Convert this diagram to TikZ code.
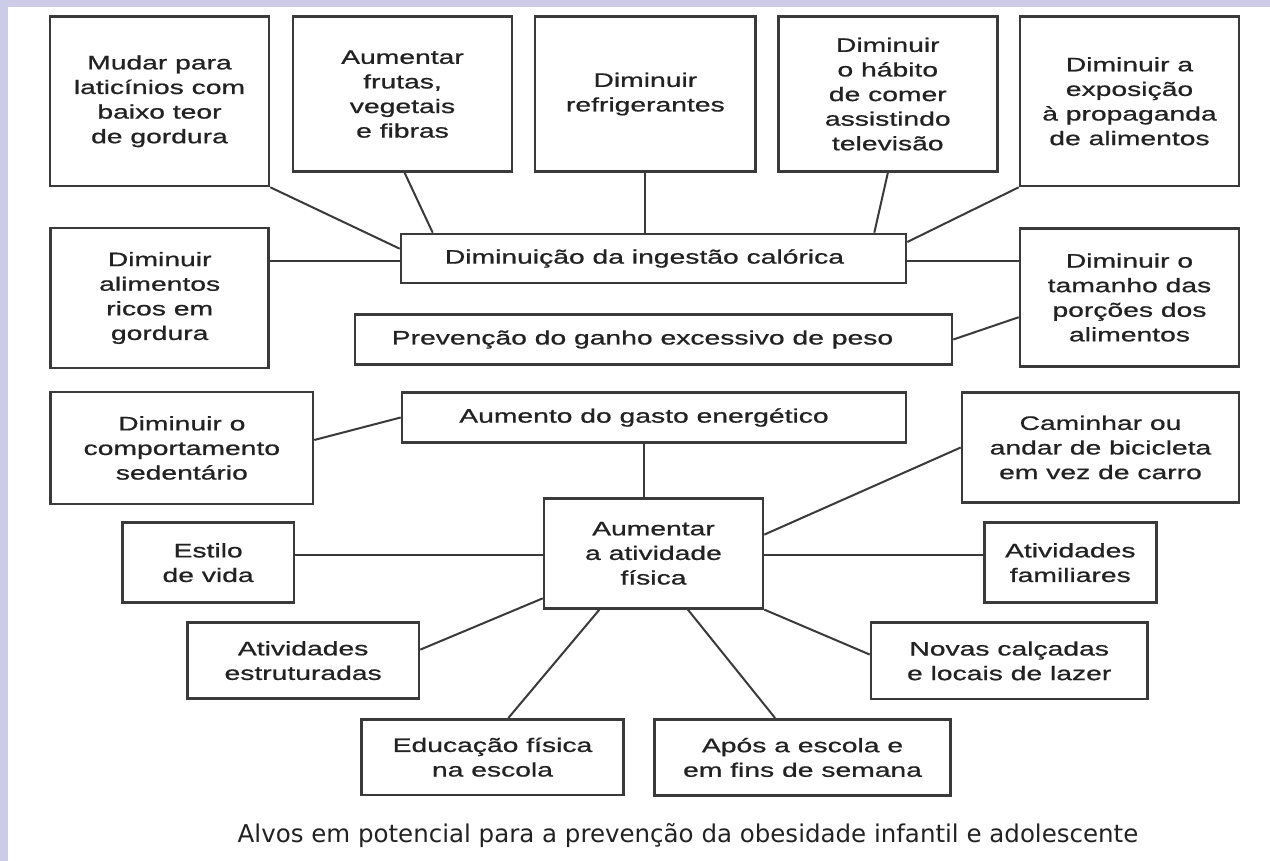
\documentclass[tikz,border=0pt]{standalone}
\usepackage{fontspec}
\setmainfont{Liberation Sans}[FakeStretch=1.45,FakeBold=0.8]
\newfontfamily\capfont{DejaVu Sans}
\usetikzlibrary{calc}
\definecolor{lav}{RGB}{204,204,232}
\definecolor{edge}{RGB}{58,58,58}
\definecolor{ink}{RGB}{34,34,34}
\newcommand{\mkbox}[6]{%
  \node[box, minimum width={(#4-#2)*1pt}, minimum height={(#5-#3)*1pt}] (#1) at ({(#2+#4)/2},{(#3+#5)/2}) {#6};}
\begin{document}
\begin{tikzpicture}[x=1pt,y=-1pt,
  box/.style={draw=edge, line width=2.6pt, inner sep=0pt, align=center, text=ink,
    font=\fontsize{19.5}{24.6}\selectfont},
  link/.style={draw=edge, line width=2pt}]
\fill[lav] (0,0) rectangle (1270,861);
\fill[white] (7.5,7.5) rectangle (1270,861);
\useasboundingbox (0,0) rectangle (1270,861);

% top row
\mkbox{mudar}{50}{16.5}{269}{186}{Mudar para\\laticínios com\\baixo teor\\de gordura}
\mkbox{frutas}{293}{16.5}{512}{171.7}{Aumentar\\frutas,\\vegetais\\e fibras}
\mkbox{refrig}{535}{16.5}{755.7}{171.7}{Diminuir\\refrigerantes}
\mkbox{tv}{778.3}{16.5}{997.3}{171.7}{Diminuir\\o hábito\\de comer\\assistindo\\televisão}
\mkbox{expo}{1020}{16.5}{1239}{186}{Diminuir a\\exposição\\à propaganda\\de alimentos}

% middle
\mkbox{ingest}{401}{234}{906}{283}{Diminuição da ingestão calórica\hspace*{18pt}}
\mkbox{gordura}{50.7}{228}{268.7}{368}{Diminuir\\alimentos\\ricos em\\gordura}
\mkbox{porcoes}{1020}{228.3}{1239}{366.7}{Diminuir o\\tamanho das\\porções dos\\alimentos}
\mkbox{prev}{355}{314.5}{952}{364.5}{Prevenção do ganho excessivo de peso\hspace*{22pt}}

\mkbox{sed}{50.7}{392}{313}{504}{Diminuir o\\comportamento\\sedentário}
\mkbox{gasto}{402}{392.3}{906}{442.7}{Aumento do gasto energético\hspace*{20pt}}
\mkbox{caminhar}{962}{392.3}{1239}{502.7}{Caminhar ou\\andar de bicicleta\\em vez de carro}

\mkbox{aum}{544}{498.3}{763}{608.3}{Aumentar\\a atividade\\física}
\mkbox{estilo}{122.3}{522.7}{294}{602.7}{Estilo\\de vida}
\mkbox{fam}{984.3}{522.7}{1156.3}{602.7}{Atividades\\familiares}
\mkbox{estrut}{187.3}{622.7}{419}{698.5}{Atividades\\estruturadas}
\mkbox{novas}{871}{622.7}{1147.4}{699}{Novas calçadas\\e locais de lazer}
\mkbox{educ}{361.7}{719.3}{623.3}{795}{Educação física\\na escola}
\mkbox{apos}{654.5}{719.3}{950.6}{795.5}{Após a escola e\\em fins de semana}

\node[font=\capfont\fontsize{24.5}{28}\selectfont, text=ink, anchor=base, inner sep=0pt] (cap) at (688,842)
  {Alvos em potencial para a prevenção da obesidade infantil e adolescente};

% connectors
\draw[link] (mudar.south east) -- ($(ingest.north west)!0.31!(ingest.south west)$);
\draw[link] ($(frutas.south west)!0.51!(frutas.south east)$) -- ($(ingest.north west)!0.065!(ingest.north east)$);
\draw[link] (refrig.south) -- (refrig.south |- ingest.north);
\draw[link] (tv.south) -- ($(ingest.north west)!0.935!(ingest.north east)$);
\draw[link] (expo.south west) -- ($(ingest.north east)!0.18!(ingest.south east)$);
\coordinate (iw) at ($(ingest.north west)!0.5521!(ingest.south west)$);
\draw[link] (iw) -- (iw -| gordura.east);
\draw[link] (iw -| ingest.east) -- (iw -| porcoes.west);
\draw[link] (prev.east) -- ($(porcoes.north west)!0.64!(porcoes.south west)$);
\draw[link] ($(sed.north east)!0.43!(sed.south east)$) -- (gasto.west);
\coordinate (gs) at ($(gasto.south west)!0.48!(gasto.south east)$);
\draw[link] (gs) -- (gs |- aum.north);
\draw[link] ($(aum.north east)!0.334!(aum.south east)$) -- (caminhar.west);
\coordinate (mid) at ($(aum.north west)!0.5155!(aum.south west)$);
\draw[link] (mid) -- (mid -| estilo.east);
\draw[link] (mid -| aum.east) -- (mid -| fam.west);
\draw[link] ($(estrut.north east)!0.36!(estrut.south east)$) -- ($(aum.north west)!0.9!(aum.south west)$);
\draw[link] ($(aum.south west)!0.256!(aum.south east)$) -- ($(educ.north west)!0.56!(educ.north east)$);
\draw[link] ($(aum.south west)!0.655!(aum.south east)$) -- ($(apos.north west)!0.408!(apos.north east)$);
\draw[link] (aum.south east) -- ($(novas.north west)!0.42!(novas.south west)$);
\end{tikzpicture}
\end{document}
